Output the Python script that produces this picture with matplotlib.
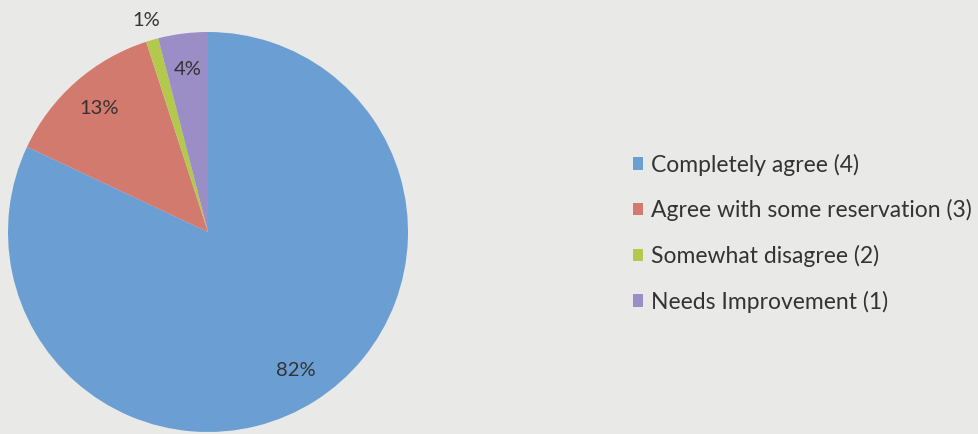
import matplotlib
matplotlib.use("Agg")
import matplotlib.pyplot as plt
import numpy as np

categories = ["Completely agree (4)", "Agree with some reservation (3)",
              "Somewhat disagree (2)", "Needs Improvement (1)"]
values = [82, 13, 1, 4]
colors = ["#6b9fd3", "#d27a6e", "#b3c94e", "#9b8dc6"]

plt.rcParams['font.family'] = ['Lato', 'DejaVu Sans']
bg = "#e9e9e7"
fig = plt.figure(figsize=(9.79, 4.34), dpi=100, facecolor=bg)
ax = fig.add_axes([0, 0, 1, 1])
ax.set_facecolor(bg)

wedges, texts, autotexts = ax.pie(values, colors=colors, startangle=90, counterclock=False,
                                  center=(208, 202), radius=200, autopct='%1.0f%%',
                                  pctdistance=0.82, frame=True,
                                  textprops=dict(fontsize=14.5, color="#333333"))
ax.set_xlim(0, 979)
ax.set_ylim(0, 434)
ax.set_aspect('equal')
ax.axis('off')
# move small slice label outside
w = wedges[2]
ang = np.deg2rad((w.theta1 + w.theta2) / 2)
autotexts[2].set_position((208 + 1.1 * 200 * np.cos(ang), 202 + 1.1 * 200 * np.sin(ang)))

leg = ax.legend(wedges, categories, loc='upper left', bbox_to_anchor=(612 / 979, 1 - 133 / 434),
                bbox_transform=fig.transFigure, frameon=False, fontsize=16.5,
                handlelength=0.45, handleheight=0.45, handletextpad=0.35, labelspacing=1.03,
                labelcolor="#333333")
fig.savefig("out.png", dpi=100, facecolor=bg)
